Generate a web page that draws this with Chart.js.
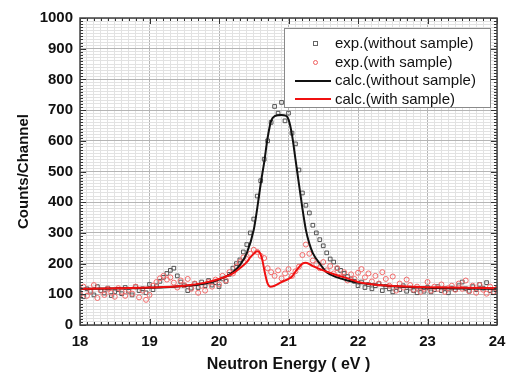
<!DOCTYPE html>
<html>
<head>
<meta charset="utf-8">
<script src="https://cdn.jsdelivr.net/npm/chart.js@4.4.0/dist/chart.umd.min.js"></script>
<style>
    html, body { margin: 0; padding: 0; background: #fff; }
    #wrap { position: relative; width: 507px; height: 374px; }
    #legendBox {
        position: absolute; left: 284px; top: 28px; width: 207px; height: 80px;
        background: #fff; border: 1px solid #8a8a8a; box-sizing: border-box;
        font-family: "Liberation Sans", Arial, sans-serif; font-size: 15px; color: #111;
        padding-top: 5px;
    }
    .row { position: relative; height: 18.7px; line-height: 18.7px; padding-left: 50px; white-space: nowrap; }
    .sym { position: absolute; top: 50%; }
    .sq { left: 28px; width: 3px; height: 3px; margin-top: -2px; border: 1px solid #666; }
    .ci { left: 28px; width: 3px; height: 3px; margin-top: -2px; border: 1px solid #f06060; border-radius: 50%; }
    .ln { left: 10px; width: 36px; height: 2px; margin-top: -1px; }
</style>
</head>
<body>
<div id="wrap">
    <canvas id="chart" width="507" height="374"></canvas>
    <div id="legendBox">
        <div class="row"><span class="sym sq"></span>exp.(without sample)</div>
        <div class="row"><span class="sym ci"></span>exp.(with sample)</div>
        <div class="row"><span class="sym ln" style="background:#111"></span>calc.(without sample)</div>
        <div class="row"><span class="sym ln" style="background:#f01010"></span>calc.(with sample)</div>
    </div>
</div>
<script>
// ============================================
// DATA
// ============================================
const energies = [
    18.00, 18.05, 18.10, 18.15, 18.20, 18.25, 18.30, 18.35, 18.40, 18.45,
    18.50, 18.55, 18.60, 18.65, 18.70, 18.75, 18.80, 18.85, 18.90, 18.95,
    19.00, 19.05, 19.10, 19.15, 19.20, 19.25, 19.30, 19.35, 19.40, 19.45,
    19.50, 19.55, 19.60, 19.65, 19.70, 19.75, 19.80, 19.85, 19.90, 19.95,
    20.00, 20.05, 20.10, 20.15, 20.20, 20.25, 20.30, 20.35, 20.40, 20.45,
    20.50, 20.55, 20.60, 20.65, 20.70, 20.75, 20.80, 20.85, 20.90, 20.95,
    21.00, 21.05, 21.10, 21.15, 21.20, 21.25, 21.30, 21.35, 21.40, 21.45,
    21.50, 21.55, 21.60, 21.65, 21.70, 21.75, 21.80, 21.85, 21.90, 21.95,
    22.00, 22.05, 22.10, 22.15, 22.20, 22.25, 22.30, 22.35, 22.40, 22.45,
    22.50, 22.55, 22.60, 22.65, 22.70, 22.75, 22.80, 22.85, 22.90, 22.95,
    23.00, 23.05, 23.10, 23.15, 23.20, 23.25, 23.30, 23.35, 23.40, 23.45,
    23.50, 23.55, 23.60, 23.65, 23.70, 23.75, 23.80, 23.85, 23.90, 23.95,
    24.00
];

const expWithout = [
    105, 92, 118, 110, 98, 125, 112, 104, 120, 96,
    108, 115, 102, 122, 110, 98, 125, 112, 118, 105,
    132, 115, 128, 142, 155, 168, 178, 185, 160, 140,
    128, 112, 120, 135, 122, 140, 128, 145, 130, 138,
    125, 150, 142, 165, 185, 200, 212, 238, 262, 300,
    345, 420, 470, 540, 600, 660, 712, 690, 725, 665,
    690, 625, 590, 505, 430, 390, 365, 325, 300, 278,
    258, 235, 215, 205, 185, 178, 168, 158, 150, 142,
    128, 140, 122, 132, 118, 128, 135, 112, 125, 118,
    108, 122, 115, 128, 110, 120, 112, 105, 118, 110,
    122, 108, 115, 125, 112, 118, 105, 120, 115, 128,
    140, 118, 110, 125, 115, 132, 120, 138, 112, 105,
    118
];

const expWith = [
    100, 125, 95, 108, 130, 88, 112, 98, 118, 105,
    92, 120, 108, 95, 115, 102, 125, 90, 112, 82,
    98, 128, 140, 152, 160, 148, 155, 138, 122, 145,
    130, 150, 118, 135, 105, 128, 112, 140, 125, 148,
    132, 160, 145, 172, 168, 190, 205, 220, 215, 232,
    245, 238, 225, 218, 185, 172, 160, 178, 152, 168,
    182, 160, 175, 190, 228, 262, 232, 210, 198, 185,
    205, 178, 192, 168, 185, 158, 172, 145, 165, 150,
    170, 182, 155, 168, 142, 160, 135, 172, 150, 128,
    158, 112, 135, 122, 148, 130, 115, 125, 108, 118,
    140, 112, 125, 118, 132, 108, 120, 128, 115, 135,
    118, 145, 110, 128, 105, 130, 115, 102, 125, 108,
    118
];

const calcWithoutE = [18.0, 18.5, 19.0, 19.5, 19.8, 20.0, 20.2, 20.3, 20.4, 20.5, 20.55, 20.6, 20.65, 20.7, 20.75, 20.8, 20.9, 20.96, 21.0, 21.05, 21.1, 21.15, 21.2, 21.25, 21.3, 21.35, 21.45, 21.55, 21.7, 21.85, 22.0, 22.3, 22.6, 23.0, 23.5, 24.0];
const calcWithout  = [118, 119, 121, 127, 135, 148, 172, 195, 234, 310, 380, 460, 530, 610, 665, 680, 684, 682, 670, 620, 540, 460, 380, 310, 265, 234, 200, 172, 155, 145, 138, 130, 125, 121, 119, 118];

const calcWithE = [18.0, 19.0, 19.5, 19.8, 20.0, 20.2, 20.3, 20.4, 20.45, 20.5, 20.55, 20.58, 20.62, 20.66, 20.7, 20.74, 20.8, 20.9, 21.0, 21.05, 21.12, 21.2, 21.25, 21.35, 21.5, 21.7, 21.85, 22.0, 22.3, 22.6, 23.0, 23.5, 24.0];
const calcWith  = [118, 122, 128, 138, 150, 168, 185, 205, 220, 232, 240, 238, 215, 170, 135, 125, 128, 140, 150, 158, 180, 200, 203, 192, 178, 162, 152, 140, 130, 126, 123, 121, 120];

const xTicksMajor = [18, 19, 20, 21, 22, 23, 24];
const yTicksMajor = [0, 100, 200, 300, 400, 500, 600, 700, 800, 900, 1000];

// ============================================
// HELPERS
// ============================================
function pairs(xs, ys) {
    return xs.map((x, i) => ({ x: x, y: ys[i] }));
}

function isMajorX(v) {
    return xTicksMajor.some(t => Math.abs(t - v) < 1e-6);
}

function isMajorY(v) {
    return yTicksMajor.some(t => Math.abs(t - v) < 1e-6);
}

// inward tick marks on all four sides of the frame
const frameTicks = {
    id: 'frameTicks',
    afterDatasetsDraw(chart) {
        const ctx = chart.ctx;
        const area = chart.chartArea;
        const xs = chart.scales.x;
        const ys = chart.scales.y;
        ctx.save();
        ctx.strokeStyle = '#333';
        ctx.lineWidth = 1;
        ctx.beginPath();
        xs.ticks.forEach(t => {
            const px = Math.round(xs.getPixelForValue(t.value)) + 0.5;
            const len = isMajorX(t.value) ? 6 : 3;
            ctx.moveTo(px, area.bottom); ctx.lineTo(px, area.bottom - len);
            ctx.moveTo(px, area.top); ctx.lineTo(px, area.top + len);
        });
        ys.ticks.forEach(t => {
            const py = Math.round(ys.getPixelForValue(t.value)) + 0.5;
            const len = isMajorY(t.value) ? 6 : 3;
            ctx.moveTo(area.left, py); ctx.lineTo(area.left + len, py);
            ctx.moveTo(area.right, py); ctx.lineTo(area.right - len, py);
        });
        ctx.stroke();
        ctx.lineWidth = 1.5;
        ctx.strokeStyle = '#444';
        ctx.strokeRect(area.left, area.top, area.right - area.left, area.bottom - area.top);
        ctx.restore();
    }
};

// ============================================
// CHART
// ============================================
const tickFont = { family: '"Liberation Sans", Arial, sans-serif', size: 15, weight: 'bold' };

new Chart(document.getElementById('chart'), {
    type: 'scatter',
    data: {
        datasets: [
            {
                label: 'calc.(with sample)',
                data: pairs(calcWithE, calcWith),
                showLine: true,
                borderColor: '#f01010',
                borderWidth: 2,
                pointRadius: 0,
                cubicInterpolationMode: 'monotone',
                order: 1
            },
            {
                label: 'calc.(without sample)',
                data: pairs(calcWithoutE, calcWithout),
                showLine: true,
                borderColor: '#111',
                borderWidth: 2,
                pointRadius: 0,
                cubicInterpolationMode: 'monotone',
                order: 2
            },
            {
                label: 'exp.(with sample)',
                data: pairs(energies, expWith),
                pointStyle: 'circle',
                pointRadius: 2.5,
                borderWidth: 1,
                borderColor: '#f26a6a',
                backgroundColor: 'rgba(0,0,0,0)',
                order: 3
            },
            {
                label: 'exp.(without sample)',
                data: pairs(energies, expWithout),
                pointStyle: 'rect',
                pointRadius: 2.6,
                borderWidth: 1,
                borderColor: '#555',
                backgroundColor: 'rgba(0,0,0,0)',
                order: 4
            }
        ]
    },
    options: {
        responsive: false,
        animation: false,
        layout: { padding: { top: 18, right: 0, left: 15, bottom: 0 } },
        plugins: {
            legend: { display: false },
            tooltip: { enabled: false }
        },
        scales: {
            x: {
                type: 'linear',
                min: 18,
                max: 24,
                afterBuildTicks: axis => {
                    const t = [];
                    for (let i = 0; i <= 60; i++) t.push({ value: 18 + i / 10 });
                    axis.ticks = t;
                },
                afterFit: axis => {
                    axis.height = 49;
                    axis.paddingLeft = 0;
                    axis.paddingRight = 10;
                },
                ticks: {
                    autoSkip: false,
                    maxRotation: 0,
                    padding: 8,
                    color: '#111',
                    font: tickFont,
                    callback: v => isMajorX(v) ? String(Math.round(v)) : ''
                },
                grid: {
                    drawTicks: false,
                    color: c => isMajorX(c.tick.value) ? '#b5b5b5' : '#e2e2e2',
                    lineWidth: 1
                },
                border: { display: false },
                title: {
                    display: true,
                    text: 'Neutron Energy ( eV )',
                    color: '#111',
                    font: { family: '"Liberation Sans", Arial, sans-serif', size: 16, weight: 'bold' },
                    padding: { top: 3, bottom: 0 }
                }
            },
            y: {
                type: 'linear',
                min: 0,
                max: 1000,
                afterBuildTicks: axis => {
                    const t = [];
                    for (let i = 0; i <= 100; i++) t.push({ value: i * 10 });
                    axis.ticks = t;
                },
                afterFit: axis => { axis.width = 65; },
                ticks: {
                    autoSkip: false,
                    padding: 7,
                    color: '#111',
                    font: tickFont,
                    callback: v => isMajorY(v) ? String(v) : ''
                },
                grid: {
                    drawTicks: false,
                    color: c => isMajorY(c.tick.value) ? '#b5b5b5' : '#e2e2e2',
                    lineWidth: 1
                },
                border: { display: false },
                title: {
                    display: true,
                    text: 'Counts/Channel',
                    color: '#111',
                    font: { family: '"Liberation Sans", Arial, sans-serif', size: 15, weight: 'bold' },
                    padding: { top: 0, bottom: 4 }
                }
            }
        }
    },
    plugins: [frameTicks]
});
</script>
</body>
</html>
